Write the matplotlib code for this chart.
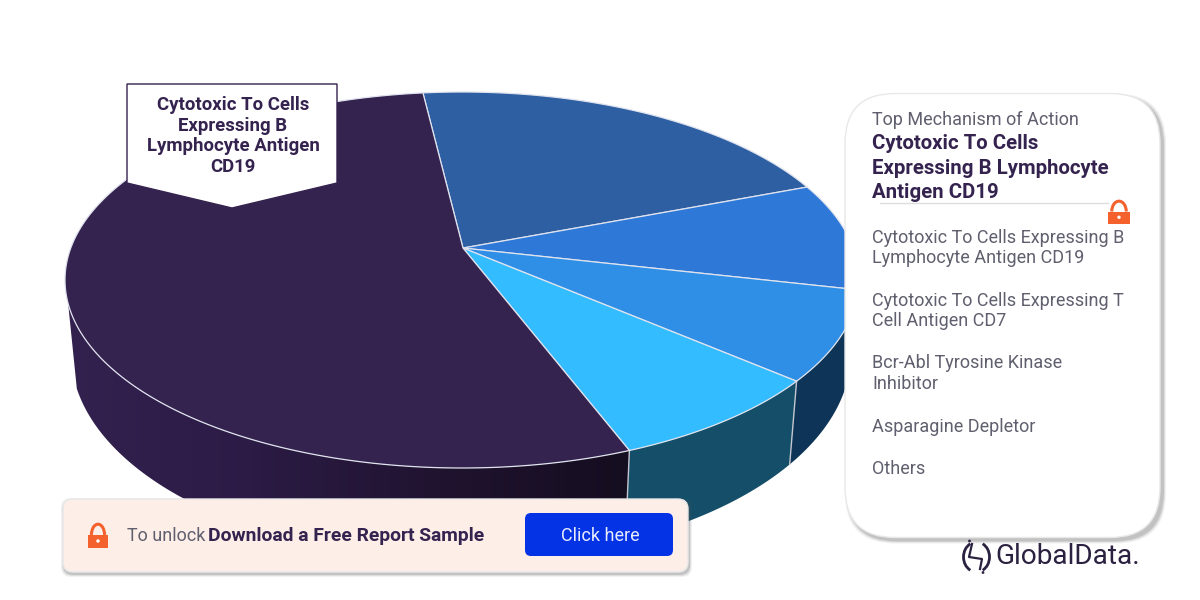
import numpy as np
import matplotlib
matplotlib.use("Agg")
import matplotlib.pyplot as plt
from matplotlib.patches import Polygon, FancyBboxPatch, Rectangle, Arc, Circle
from matplotlib.colors import LinearSegmentedColormap

plt.rcParams['font.family'] = ['Roboto', 'DejaVu Sans']

# ---- data -------------------------------------------------------------
slice_names = ["Cytotoxic To Cells Expressing B Lymphocyte Antigen CD19",
               "Cytotoxic To Cells Expressing T Cell Antigen CD7",
               "Bcr-Abl Tyrosine Kinase Inhibitor",
               "Asparagine Depletor",
               "Others"]
slice_values = [21.1, 9.3, 7.7, 7.9, 54.0]
top_colors = ["#2f5fa3", "#2e78d8", "#2f8fe6", "#33bcff", "#35234f"]
side_colors = ["#24497d", "#1d4f8f", "#0e3557", "#144e68", "#2e1f4a"]
legend_items = ["Cytotoxic To Cells Expressing B\nLymphocyte Antigen CD19",
                "Cytotoxic To Cells Expressing T\nCell Antigen CD7",
                "Bcr-Abl Tyrosine Kinase\nInhibitor",
                "Asparagine Depletor",
                "Others"]
legend_y = [248, 311, 373.5, 426.5, 468.5]

# ---- geometry of the tilted pie ----------------------------------------
START = -6.7
CX, CY, A, B = 462, 280, 397, 188
LCX, LCY, LA, LB = 461, 353, 390, 207
S = -0.17

def project(theta_deg):
    t = np.radians(theta_deg)
    u, v = np.sin(t), -np.cos(t)
    d = 1 + S * v
    return u * np.sqrt(1 - S**2) / d, (v + S) / d

def top_xy(theta):
    u, v = project(theta)
    return CX + A * u, CY + B * v

def low_xy(theta):
    u, v = project(theta)
    return LCX + LA * u, LCY + LB * v

apex = (CX + 1, CY + B * S)

fig = plt.figure(figsize=(12, 6), dpi=100, facecolor="white")
ax = fig.add_axes([0, 0, 1, 1])
ax.set_xlim(0, 1200)
ax.set_ylim(600, 0)
ax.axis("off")

edges = START + np.cumsum([0] + slice_values) * 3.6

# side walls, only the visible front part
for i in range(len(slice_values)):
    th = np.linspace(edges[i], edges[i + 1], 300)
    tx, ty = top_xy(th)
    lx, ly = low_xy(th)
    _, vp = project(th)
    keep_top = vp >= 0.12
    keep_low = vp >= 0.164
    if keep_low.sum() < 2:
        continue
    poly = np.r_[np.c_[tx[keep_top], ty[keep_top]], np.c_[lx[keep_low], ly[keep_low]][::-1]]
    if i == 4:
        cmap = LinearSegmentedColormap.from_list("g", ["#33214f", "#2b1b45", "#20132f", "#150d20"])
        p = Polygon(poly, closed=True, fc="none", ec="none", zorder=2)
        ax.add_patch(p)
        im = ax.imshow(np.linspace(0, 1, 256)[None, :], extent=(65, 630, 600, 0), cmap=cmap,
                       aspect="auto", zorder=2)
        im.set_clip_path(p)
    else:
        ax.add_patch(Polygon(poly, closed=True, fc=side_colors[i], ec="none", zorder=2))
    if project(edges[i])[1] > 0.12:
        x0, y0 = top_xy(edges[i])
        x1, y1 = low_xy(edges[i])
        ax.plot([x0, x1], [y0, y1], color="#c4c6d0", lw=1.0, zorder=3)

ax.set_xlim(0, 1200)
ax.set_ylim(600, 0)

# top face
for i, col in enumerate(top_colors):
    th = np.linspace(edges[i], edges[i + 1], 300)
    tx, ty = top_xy(th)
    poly = np.r_[[apex], np.c_[tx, ty]]
    ax.add_patch(Polygon(poly, closed=True, fc=col, ec="#dfe3ee", lw=0.9, zorder=4, joinstyle="round"))

# callout
ax.add_patch(Polygon([(127, 84), (337, 84), (337, 183), (232, 208), (127, 183)], closed=True,
                     fc="white", ec="#35234f", lw=1, zorder=5))
ax.text(233, 136, "Cytotoxic To Cells\nExpressing B\nLymphocyte Antigen\nCD19", ha="center", va="center",
        fontsize=13.4, fontweight="bold", color="#35234f", linespacing=1.19, zorder=6)

def shadow_box(x, y, w, h, r, fc, dx=3, dy=3, z=7):
    for k, al in [(3, .08), (2, .12), (1, .2)]:
        ax.add_patch(FancyBboxPatch((x + dx, y + dy), w, h, boxstyle=f"round,pad={k},rounding_size={r}",
                                    fc="#555555", ec="none", alpha=al, zorder=z))
    ax.add_patch(FancyBboxPatch((x, y), w, h, boxstyle=f"round,pad=0,rounding_size={r}",
                                fc=fc, ec="#e8e8e8", lw=1, zorder=z + .1))

def lock(x, top, w, h, z=9):
    body = top + h * .48
    ax.add_patch(Arc((x + w / 2, body), w * .66, (body - top) * 2 * .9, theta1=180, theta2=360,
                     color="#f4612d", lw=2.2, zorder=z))
    ax.add_patch(Rectangle((x, body), w, top + h - body, fc="#f4612d", ec="none", zorder=z))
    ax.add_patch(Circle((x + w / 2, body + h * .24), h * .07, fc="white", ec="none", zorder=z + .1))

# right panel
shadow_box(845, 93.5, 315, 444, 50, "white")
ax.text(872, 120, "Top Mechanism of Action", fontsize=13, color="#5f5f6e", va="center", zorder=9)
ax.text(872, 168, "Cytotoxic To Cells\nExpressing B Lymphocyte\nAntigen CD19", fontsize=14.7, fontweight="bold",
        color="#35234f", va="center", linespacing=1.35, zorder=9)
ax.plot([880, 1108], [202.5, 202.5], color="#dddddd", lw=1, zorder=8)
lock(1108, 200, 22, 24)
for txt, y in zip(legend_items, legend_y):
    ax.text(872, y, txt, fontsize=13, color="#5f5f6e", va="center", linespacing=1.2, zorder=9)

# bottom banner
shadow_box(63, 499, 625, 73, 10, "#fdeee8", dx=1, dy=2)
lock(88, 523, 20, 25)
ax.text(127, 536, "To unlock", fontsize=13, color="#5f5f6e", va="center", zorder=9)
ax.text(207.5, 536, "Download a Free Report Sample", fontsize=13.85, fontweight="bold", color="#35234f",
        va="center", zorder=9)
ax.add_patch(FancyBboxPatch((525, 513), 148, 43, boxstyle="round,pad=0,rounding_size=6", fc="#0433e6", ec="none", zorder=9))
ax.text(600.5, 536, "Click here", fontsize=13, color="#e8ecff", ha="center", va="center", zorder=10)

# logo
ax.add_patch(Arc((976.5, 557), 26, 30, theta1=115, theta2=245, color="#2b2140", lw=2, zorder=9))
ax.add_patch(Arc((976.5, 557), 26, 30, theta1=295, theta2=65, color="#2b2140", lw=2, zorder=9))
ax.plot([972, 969, 982, 980], [544, 557, 559, 569], color="#2b2140", lw=1.6, zorder=9)
ax.add_patch(Circle((969.5, 541), 1.4, fc="#2b2140", ec="none", zorder=9))
ax.add_patch(Circle((983, 572.5), 1.4, fc="#2b2140", ec="none", zorder=9))
ax.text(995, 557, "GlobalData.", fontsize=20.2, color="#2b2140", va="center", zorder=9)

fig.savefig("out.png", dpi=100, facecolor="white")
